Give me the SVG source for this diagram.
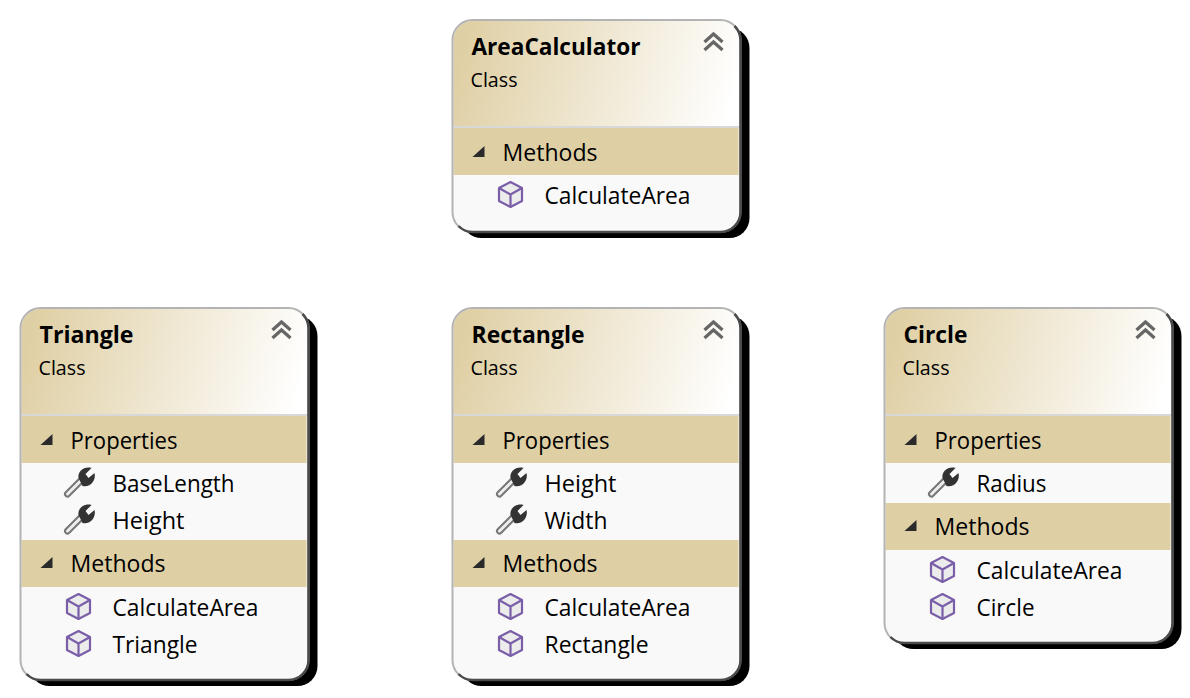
<svg xmlns="http://www.w3.org/2000/svg" xmlns:xlink="http://www.w3.org/1999/xlink" width="1190" height="698" viewBox="0 0 1190 698">
<style>
text{font-family:"Open Sans","Noto Sans","Liberation Sans",sans-serif;fill:#000}
.t{font-size:23px;font-weight:700}
.c{font-size:20px}
.s,.i{font-size:22.8px}
.band{fill:#dfcfa4}
.body{fill:#f9f9f9}
.sh{fill:#000}
.edge{fill:none;stroke:#b4b4b4;stroke-width:2}
.dark{fill:none;stroke:#4a4a4a;stroke-width:2.5}
.sep{stroke:#d8d8d8;stroke-width:2}
.chev{fill:none;stroke:#666;stroke-width:3.2}
</style>
<defs>
<linearGradient id="hg" x1="0" y1="0.45" x2="1" y2="0.55"><stop offset="0" stop-color="#dfcfa4"/><stop offset="1" stop-color="#ffffff"/></linearGradient>
<g id="chev"><path class="chev" d="M-9 2 L0 -6 L9 2 M-9 10 L0 2 L9 10"/></g>
<path id="tri" d="M6 -6 L6 5 L-6 5 Z" fill="#2a2a2a"/>
<g id="cube" stroke="#7a5ea8" stroke-width="2.2" stroke-linejoin="round"><path d="M0 -12 L11.5 -6 L11.5 7 L0 13 L-11.5 7 L-11.5 -6 Z" fill="#ececec"/><path d="M-11.5 -6 L0 0.5 L11.5 -6 M0 0.5 V13" fill="none"/></g>
<g id="wrench"><path d="M-11 11 L3 -3" stroke="#777" stroke-width="7" stroke-linecap="round"/><path d="M-11 11 L3 -3" stroke="#eee" stroke-width="3" stroke-linecap="round"/><path d="M0 -5 C-1 -12 6 -17 13 -15 L7 -9 L10 -5 L16 -10 C18 -2 11 5 4 3 Z" fill="#333"/></g>
</defs>
<g id="connectors"/>
<g id="AreaCalculator" transform="translate(452.5 20)">
<rect class="sh" x="9" y="8" width="288" height="210" rx="20"/>
<rect class="body" width="288" height="212" rx="20"/>
<path fill="url(#hg)" d="M1 106 V20 A19 19 0 0 1 20 1 H268 A19 19 0 0 1 287 20 V106 Z"/>
<rect class="band" x="1" y="108" width="285" height="47"/>
<line class="sep" x1="1" x2="287" y1="107" y2="107"/>
<rect class="edge" x="0" y="0" width="288" height="212" rx="20"/>
<path class="dark" d="M282 6 A20 20 0 0 1 288 20 V192 A20 20 0 0 1 268 212 H20 A20 20 0 0 1 6 206"/>
<use xlink:href="#chev" href="#chev" x="261" y="20"/>
<text class="t" x="19" y="35" textLength="169" lengthAdjust="spacingAndGlyphs">AreaCalculator</text>
<text class="c" x="18" y="67" textLength="47" lengthAdjust="spacingAndGlyphs">Class</text>
<use xlink:href="#tri" href="#tri" x="26" y="132"/>
<text class="s" x="50" y="140.500" textLength="95" lengthAdjust="spacingAndGlyphs">Methods</text>
<use xlink:href="#cube" href="#cube" x="58" y="174"/>
<text class="i" x="92" y="183.500" textLength="146" lengthAdjust="spacingAndGlyphs">CalculateArea</text>
</g>
<g id="Triangle" transform="translate(20.500 308)">
<rect class="sh" x="9" y="8" width="288" height="370" rx="20"/>
<rect class="body" width="288" height="372" rx="20"/>
<path fill="url(#hg)" d="M1 106 V20 A19 19 0 0 1 20 1 H268 A19 19 0 0 1 287 20 V106 Z"/>
<rect class="band" x="1" y="108" width="285" height="47"/>
<rect class="band" x="1" y="232" width="285" height="47"/>
<line class="sep" x1="1" x2="287" y1="107" y2="107"/>
<rect class="edge" x="0" y="0" width="288" height="372" rx="20"/>
<path class="dark" d="M282 6 A20 20 0 0 1 288 20 V352 A20 20 0 0 1 268 372 H20 A20 20 0 0 1 6 366"/>
<use xlink:href="#chev" href="#chev" x="261" y="20"/>
<text class="t" x="19" y="35" textLength="94" lengthAdjust="spacingAndGlyphs">Triangle</text>
<text class="c" x="18" y="67" textLength="47" lengthAdjust="spacingAndGlyphs">Class</text>
<use xlink:href="#tri" href="#tri" x="26" y="132"/>
<text class="s" x="50" y="140.500" textLength="107" lengthAdjust="spacingAndGlyphs">Properties</text>
<use xlink:href="#wrench" href="#wrench" x="58" y="175"/>
<text class="i" x="92" y="183.500" textLength="122" lengthAdjust="spacingAndGlyphs">BaseLength</text>
<use xlink:href="#wrench" href="#wrench" x="58" y="212"/>
<text class="i" x="92" y="220.500" textLength="72" lengthAdjust="spacingAndGlyphs">Height</text>
<use xlink:href="#tri" href="#tri" x="26" y="255"/>
<text class="s" x="50" y="263.500" textLength="95" lengthAdjust="spacingAndGlyphs">Methods</text>
<use xlink:href="#cube" href="#cube" x="58" y="298"/>
<text class="i" x="92" y="307.500" textLength="146" lengthAdjust="spacingAndGlyphs">CalculateArea</text>
<use xlink:href="#cube" href="#cube" x="58" y="335"/>
<text class="i" x="92" y="344.500" textLength="85" lengthAdjust="spacingAndGlyphs">Triangle</text>
</g>
<g id="Rectangle" transform="translate(452.500 308)">
<rect class="sh" x="9" y="8" width="288" height="370" rx="20"/>
<rect class="body" width="288" height="372" rx="20"/>
<path fill="url(#hg)" d="M1 106 V20 A19 19 0 0 1 20 1 H268 A19 19 0 0 1 287 20 V106 Z"/>
<rect class="band" x="1" y="108" width="285" height="47"/>
<rect class="band" x="1" y="232" width="285" height="47"/>
<line class="sep" x1="1" x2="287" y1="107" y2="107"/>
<rect class="edge" x="0" y="0" width="288" height="372" rx="20"/>
<path class="dark" d="M282 6 A20 20 0 0 1 288 20 V352 A20 20 0 0 1 268 372 H20 A20 20 0 0 1 6 366"/>
<use xlink:href="#chev" href="#chev" x="261" y="20"/>
<text class="t" x="19" y="35" textLength="113" lengthAdjust="spacingAndGlyphs">Rectangle</text>
<text class="c" x="18" y="67" textLength="47" lengthAdjust="spacingAndGlyphs">Class</text>
<use xlink:href="#tri" href="#tri" x="26" y="132"/>
<text class="s" x="50" y="140.500" textLength="107" lengthAdjust="spacingAndGlyphs">Properties</text>
<use xlink:href="#wrench" href="#wrench" x="58" y="175"/>
<text class="i" x="92" y="183.500" textLength="72" lengthAdjust="spacingAndGlyphs">Height</text>
<use xlink:href="#wrench" href="#wrench" x="58" y="212"/>
<text class="i" x="92" y="220.500" textLength="63" lengthAdjust="spacingAndGlyphs">Width</text>
<use xlink:href="#tri" href="#tri" x="26" y="255"/>
<text class="s" x="50" y="263.500" textLength="95" lengthAdjust="spacingAndGlyphs">Methods</text>
<use xlink:href="#cube" href="#cube" x="58" y="298"/>
<text class="i" x="92" y="307.500" textLength="146" lengthAdjust="spacingAndGlyphs">CalculateArea</text>
<use xlink:href="#cube" href="#cube" x="58" y="335"/>
<text class="i" x="92" y="344.500" textLength="104" lengthAdjust="spacingAndGlyphs">Rectangle</text>
</g>
<g id="Circle" transform="translate(884.500 308)">
<rect class="sh" x="9" y="8" width="288" height="333" rx="20"/>
<rect class="body" width="288" height="335" rx="20"/>
<path fill="url(#hg)" d="M1 106 V20 A19 19 0 0 1 20 1 H268 A19 19 0 0 1 287 20 V106 Z"/>
<rect class="band" x="1" y="108" width="285" height="47"/>
<rect class="band" x="1" y="195" width="285" height="47"/>
<line class="sep" x1="1" x2="287" y1="107" y2="107"/>
<rect class="edge" x="0" y="0" width="288" height="335" rx="20"/>
<path class="dark" d="M282 6 A20 20 0 0 1 288 20 V315 A20 20 0 0 1 268 335 H20 A20 20 0 0 1 6 329"/>
<use xlink:href="#chev" href="#chev" x="261" y="20"/>
<text class="t" x="19" y="35" textLength="64" lengthAdjust="spacingAndGlyphs">Circle</text>
<text class="c" x="18" y="67" textLength="47" lengthAdjust="spacingAndGlyphs">Class</text>
<use xlink:href="#tri" href="#tri" x="26" y="132"/>
<text class="s" x="50" y="140.500" textLength="107" lengthAdjust="spacingAndGlyphs">Properties</text>
<use xlink:href="#wrench" href="#wrench" x="58" y="175"/>
<text class="i" x="92" y="183.500" textLength="70" lengthAdjust="spacingAndGlyphs">Radius</text>
<use xlink:href="#tri" href="#tri" x="26" y="218"/>
<text class="s" x="50" y="226.500" textLength="95" lengthAdjust="spacingAndGlyphs">Methods</text>
<use xlink:href="#cube" href="#cube" x="58" y="261"/>
<text class="i" x="92" y="270.500" textLength="146" lengthAdjust="spacingAndGlyphs">CalculateArea</text>
<use xlink:href="#cube" href="#cube" x="58" y="298"/>
<text class="i" x="92" y="307.500" textLength="58" lengthAdjust="spacingAndGlyphs">Circle</text>
</g>
</svg>
